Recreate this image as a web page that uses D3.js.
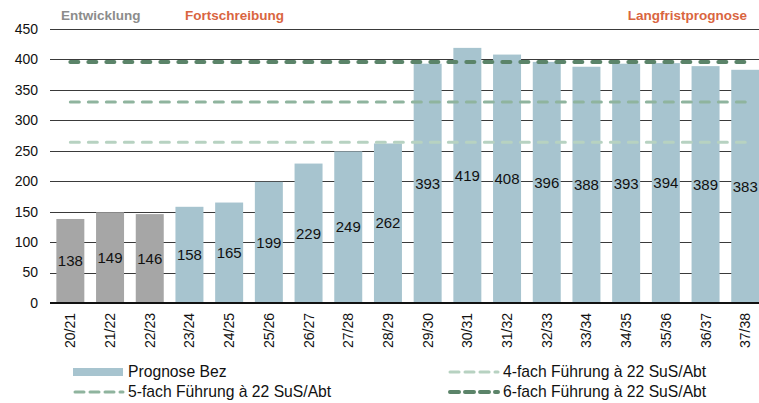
<!DOCTYPE html>
<html>
<head>
<meta charset="utf-8">
<script src="https://cdn.jsdelivr.net/npm/d3@7"></script>
<style>
  body { margin: 0; background: #fff; }
  svg { display: block; font-family: "Liberation Sans", Arial, sans-serif; }
</style>
</head>
<body>
<svg id="chart" width="759" height="403"></svg>
<script>
// data
const years    = ["20/21","21/22","22/23","23/24","24/25","25/26","26/27","27/28","28/29",
                  "29/30","30/31","31/32","32/33","33/34","34/35","35/36","36/37","37/38"];
const pupils   = [138,149,146,158,165,199,229,249,262,393,419,408,396,388,393,394,389,383];
const history  = ["20/21","21/22","22/23"];     // grey bars (Entwicklung)
const yTicks   = [0,50,100,150,200,250,300,350,400,450];
const fach4    = years.map(() => 264);
const fach5    = years.map(() => 330);
const fach6    = years.map(() => 396);

const svg    = d3.select("#chart"),
      x      = d3.scaleBand().domain(years).range([50, 765.6]).paddingInner(0.295).paddingOuter(0.16),
      y      = d3.scaleLinear().domain([0, 450]).range([303, 29]);

// grid lines
svg.append("g")
  .selectAll("line")
  .data(yTicks.filter(d => d > 0))
  .enter().append("line")
    .attr("x1", 50).attr("x2", 759)
    .attr("y1", d => Math.round(y(d)) + 0.5)
    .attr("y2", d => Math.round(y(d)) + 0.5)
    .attr("stroke", "#3a3a3a")
    .attr("stroke-width", 1);

// y axis labels
svg.append("g")
  .selectAll("text")
  .data(yTicks)
  .enter().append("text")
    .attr("x", 38)
    .attr("y", d => y(d))
    .attr("dy", "0.35em")
    .attr("text-anchor", "end")
    .style("font-size", "14px")
    .attr("fill", "#111")
    .text(d => d);

// bars
svg.append("g")
  .selectAll("rect")
  .data(years)
  .enter().append("rect")
    .attr("x", d => x(d))
    .attr("y", (d, i) => y(pupils[i]))
    .attr("width", x.bandwidth())
    .attr("height", (d, i) => y(0) - y(pupils[i]))
    .attr("fill", d => history.includes(d) ? "#a6a6a6" : "#a7c4cf");

// bar labels
svg.append("g")
  .selectAll("text")
  .data(years)
  .enter().append("text")
    .attr("x", d => x(d) + x.bandwidth() / 2)
    .attr("y", (d, i) => (y(pupils[i]) + y(0)) / 2)
    .attr("dy", "0.35em")
    .attr("text-anchor", "middle")
    .style("font-size", "15px")
    .attr("fill", "#111")
    .text((d, i) => pupils[i]);

// baseline
svg.append("line")
  .attr("x1", 50).attr("x2", 759)
  .attr("y1", y(0)).attr("y2", y(0))
  .attr("stroke", "#111")
  .attr("stroke-width", 2);

// dashed reference lines
const refLines = [
  {vals: fach4, color: "#b7d2c1", w: 3, label: "4-fach Führung à 22 SuS/Abt"},
  {vals: fach5, color: "#8fb49e", w: 3, label: "5-fach Führung à 22 SuS/Abt"},
  {vals: fach6, color: "#5b8469", w: 4, label: "6-fach Führung à 22 SuS/Abt"}
];
const line = d3.line()
  .x((d, i) => x(years[i]) + x.bandwidth() / 2)
  .y(d => y(d));

refLines.forEach(r => {
  svg.append("path")
    .datum(r.vals)
    .attr("d", line)
    .attr("fill", "none")
    .attr("stroke", r.color)
    .attr("stroke-width", r.w)
    .attr("stroke-dasharray", (12 - r.w) + "," + (6 + r.w))
    .attr("stroke-linecap", "round");
});

// x axis labels (rotated)
svg.append("g")
  .selectAll("text")
  .data(years)
  .enter().append("text")
    .attr("transform", d => `translate(${x(d) + x.bandwidth() / 2 + 5},313) rotate(-90)`)
    .attr("text-anchor", "end")
    .style("font-size", "14px")
    .attr("fill", "#111")
    .text(d => d);

// header texts
svg.append("text")
  .attr("x", 61).attr("y", 20)
  .style("font-size", "13.5px").style("font-weight", "bold")
  .attr("fill", "#8c8c8c")
  .text("Entwicklung");

svg.append("text")
  .attr("x", 185).attr("y", 20)
  .style("font-size", "13.5px").style("font-weight", "bold")
  .attr("fill", "#d9653f")
  .text("Fortschreibung");

svg.append("text")
  .attr("x", 747).attr("y", 20)
  .attr("text-anchor", "end")
  .style("font-size", "13.5px").style("font-weight", "bold")
  .attr("fill", "#d9653f")
  .text("Langfristprognose");

// legend
const lg = svg.append("g");
lg.append("rect")
  .attr("x", 73).attr("y", 368)
  .attr("width", 50).attr("height", 8)
  .attr("fill", "#a7c4cf");
lg.append("text")
  .attr("x", 128).attr("y", 372).attr("dy", "0.35em")
  .style("font-size", "15.7px").attr("fill", "#111")
  .text("Prognose Bez");

const legendLines = [
  {r: refLines[1], x: 73,  y: 392},
  {r: refLines[0], x: 448, y: 372},
  {r: refLines[2], x: 448, y: 392}
];
legendLines.forEach(l => {
  lg.append("line")
    .attr("x1", l.x + 2).attr("x2", l.x + 50)
    .attr("y1", l.y).attr("y2", l.y)
    .attr("stroke", l.r.color)
    .attr("stroke-width", l.r.w)
    .attr("stroke-dasharray", "9,6")
    .attr("stroke-linecap", "round");
  lg.append("text")
    .attr("x", l.x + 55).attr("y", l.y).attr("dy", "0.35em")
    .style("font-size", "15.7px").attr("fill", "#111")
    .text(l.r.label);
});
</script>
</body>
</html>
